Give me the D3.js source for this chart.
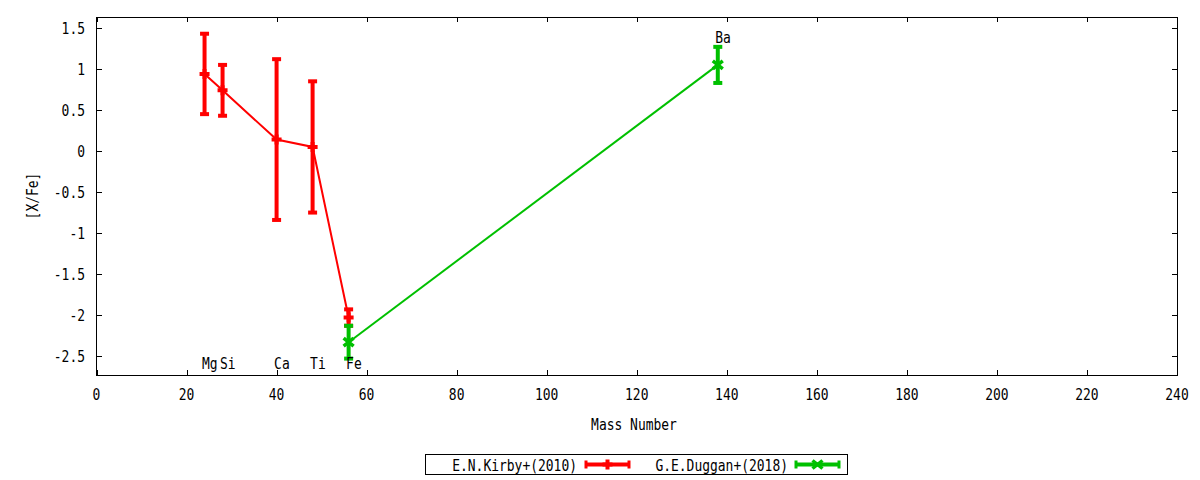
<!DOCTYPE html>
<html>
<head>
<meta charset="utf-8">
<script src="https://cdn.jsdelivr.net/npm/d3@7"></script>
<style>
  html, body { margin: 0; padding: 0; background: #fff; }
  svg text { font-family: "DejaVu Sans Mono", monospace; font-size: 16px; fill: #000; }
</style>
</head>
<body>
<svg id="chart" width="1200" height="480"></svg>
<script>
// ---- data ----
const kirbyElems = ["Mg", "Si", "Ca", "Ti", "Fe"];
const kirbyMass  = [24, 28, 40, 48, 56];
const kirbyVal   = [0.94, 0.74, 0.14, 0.05, -2.03];
const kirbyErr   = [0.49, 0.31, 0.98, 0.80, 0.10];

const dugganElems = ["Fe", "Ba"];
const dugganMass  = [56, 138];
const dugganVal   = [-2.33, 1.05];
const dugganErr   = [0.20, 0.22];

const labelElems = ["Mg", "Si", "Ca", "Ti", "Fe", "Ba"];
const labelMass  = [24, 28, 40, 48, 56, 138];
const labelY     = [-2.66, -2.66, -2.66, -2.66, -2.66, 1.32];

const xTicks = [0, 20, 40, 60, 80, 100, 120, 140, 160, 180, 200, 220, 240];
const yTicks = [1.5, 1, 0.5, 0, -0.5, -1, -1.5, -2, -2.5];

const seriesNames = ["E.N.Kirby+(2010)", "G.E.Duggan+(2018)"];
const xLabel = "Mass Number";
const yLabel = "[X/Fe]";

// ---- layout ----
const L = 96.5, R = 1177, T = 17, B = 375;
const CW = 7.8; // char advance
const svg = d3.select("#chart");
const x = d3.scaleLinear().domain([0, 240]).range([L, R]);
const y = d3.scaleLinear().domain([-2.73, 1.634]).range([B, T]);

function fitText(sel) {
  sel.attr("textLength", function () { return this.textContent.length * CW; })
     .attr("lengthAdjust", "spacingAndGlyphs");
  return sel;
}

// frame
svg.append("rect").attr("x", L).attr("y", T).attr("width", R - L).attr("height", B - T)
  .attr("fill", "none").attr("stroke", "#000").attr("stroke-width", 1).attr("shape-rendering", "crispEdges");

// axes with inward ticks (bottom/top, left/right)
const tick = 5;
const gx = svg.append("g").attr("shape-rendering", "crispEdges");
xTicks.forEach(v => {
  const px = Math.round(x(v)) + 0.5;
  gx.append("line").attr("x1", px).attr("x2", px).attr("y1", B).attr("y2", B - tick).attr("stroke", "#000");
  gx.append("line").attr("x1", px).attr("x2", px).attr("y1", T).attr("y2", T + tick).attr("stroke", "#000");
});
svg.append("g").selectAll("text").data(xTicks).join("text")
  .attr("x", d => x(d)).attr("y", 400).attr("text-anchor", "middle")
  .text(d => String(d)).call(fitText);

const gy = svg.append("g").attr("shape-rendering", "crispEdges");
yTicks.forEach(v => {
  const py = Math.round(y(v)) + 0.5;
  gy.append("line").attr("x1", L).attr("x2", L + tick).attr("y1", py).attr("y2", py).attr("stroke", "#000");
  gy.append("line").attr("x1", R).attr("x2", R - tick).attr("y1", py).attr("y2", py).attr("stroke", "#000");
});
svg.append("g").selectAll("text").data(yTicks).join("text")
  .attr("x", 85).attr("y", d => y(d) + 6).attr("text-anchor", "end")
  .text(d => String(d)).call(fitText);

// axis labels
svg.append("text").attr("x", 634).attr("y", 430).attr("text-anchor", "middle").text(xLabel).call(fitText);
svg.append("text").attr("transform", "translate(38,196) rotate(-90)").attr("text-anchor", "middle").text(yLabel).call(fitText);

// series drawing
function drawSeries(mass, val, err, color, marker) {
  const g = svg.append("g");
  const pts = mass.map((m, i) => [x(m), y(val[i])]);
  g.append("path").attr("d", d3.line()(pts)).attr("fill", "none").attr("stroke", color).attr("stroke-width", 2);
  mass.forEach((m, i) => {
    const px = x(m), y1 = y(val[i] + err[i]), y2 = y(val[i] - err[i]);
    g.append("line").attr("x1", px).attr("x2", px).attr("y1", y1).attr("y2", y2)
      .attr("stroke", color).attr("stroke-width", 4);
    [y1, y2].forEach(yy => g.append("line").attr("x1", px - 4.5).attr("x2", px + 4.5)
      .attr("y1", yy).attr("y2", yy).attr("stroke", color).attr("stroke-width", 4));
    drawMarker(g, px, y(val[i]), color, marker);
  });
}
function drawMarker(g, px, py, color, marker) {
  if (marker === "plus") {
    g.append("path").attr("d", `M${px - 5},${py}H${px + 5}M${px},${py - 5}V${py + 5}`)
      .attr("stroke", color).attr("stroke-width", 4).attr("fill", "none");
  } else {
    g.append("path").attr("d", `M${px - 5},${py - 4}L${px + 5},${py + 4}M${px - 5},${py + 4}L${px + 5},${py - 4}`)
      .attr("stroke", color).attr("stroke-width", 3.5).attr("fill", "none");
  }
}
const RED = "#ff0000", GREEN = "#00c000";
drawSeries(kirbyMass, kirbyVal, kirbyErr, RED, "plus");
drawSeries(dugganMass, dugganVal, dugganErr, GREEN, "x");

// element labels
svg.append("g").selectAll("text").data(labelElems).join("text")
  .attr("x", (d, i) => x(labelMass[i]) - 2.5).attr("y", (d, i) => y(labelY[i]))
  .text(d => d).call(fitText);

// legend
svg.append("rect").attr("x", 425.5).attr("y", 454.5).attr("width", 422).attr("height", 20)
  .attr("fill", "none").attr("stroke", "#000").attr("shape-rendering", "crispEdges");
const legendItems = [
  { name: seriesNames[0], color: RED, marker: "plus", textEnd: 577, x1: 586, x2: 629 },
  { name: seriesNames[1], color: GREEN, marker: "x", textEnd: 788, x1: 796, x2: 839 }
];
const ly = 464.5;
legendItems.forEach(it => {
  svg.append("text").attr("x", it.textEnd).attr("y", ly + 6).attr("text-anchor", "end").text(it.name).call(fitText);
  const g = svg.append("g");
  g.append("line").attr("x1", it.x1).attr("x2", it.x2).attr("y1", ly).attr("y2", ly).attr("stroke", it.color).attr("stroke-width", 4);
  [it.x1, it.x2].forEach(xx => g.append("line").attr("x1", xx).attr("x2", xx).attr("y1", ly - 4).attr("y2", ly + 4)
    .attr("stroke", it.color).attr("stroke-width", 3));
  drawMarker(g, (it.x1 + it.x2) / 2, ly, it.color, it.marker);
});
</script>
</body>
</html>
